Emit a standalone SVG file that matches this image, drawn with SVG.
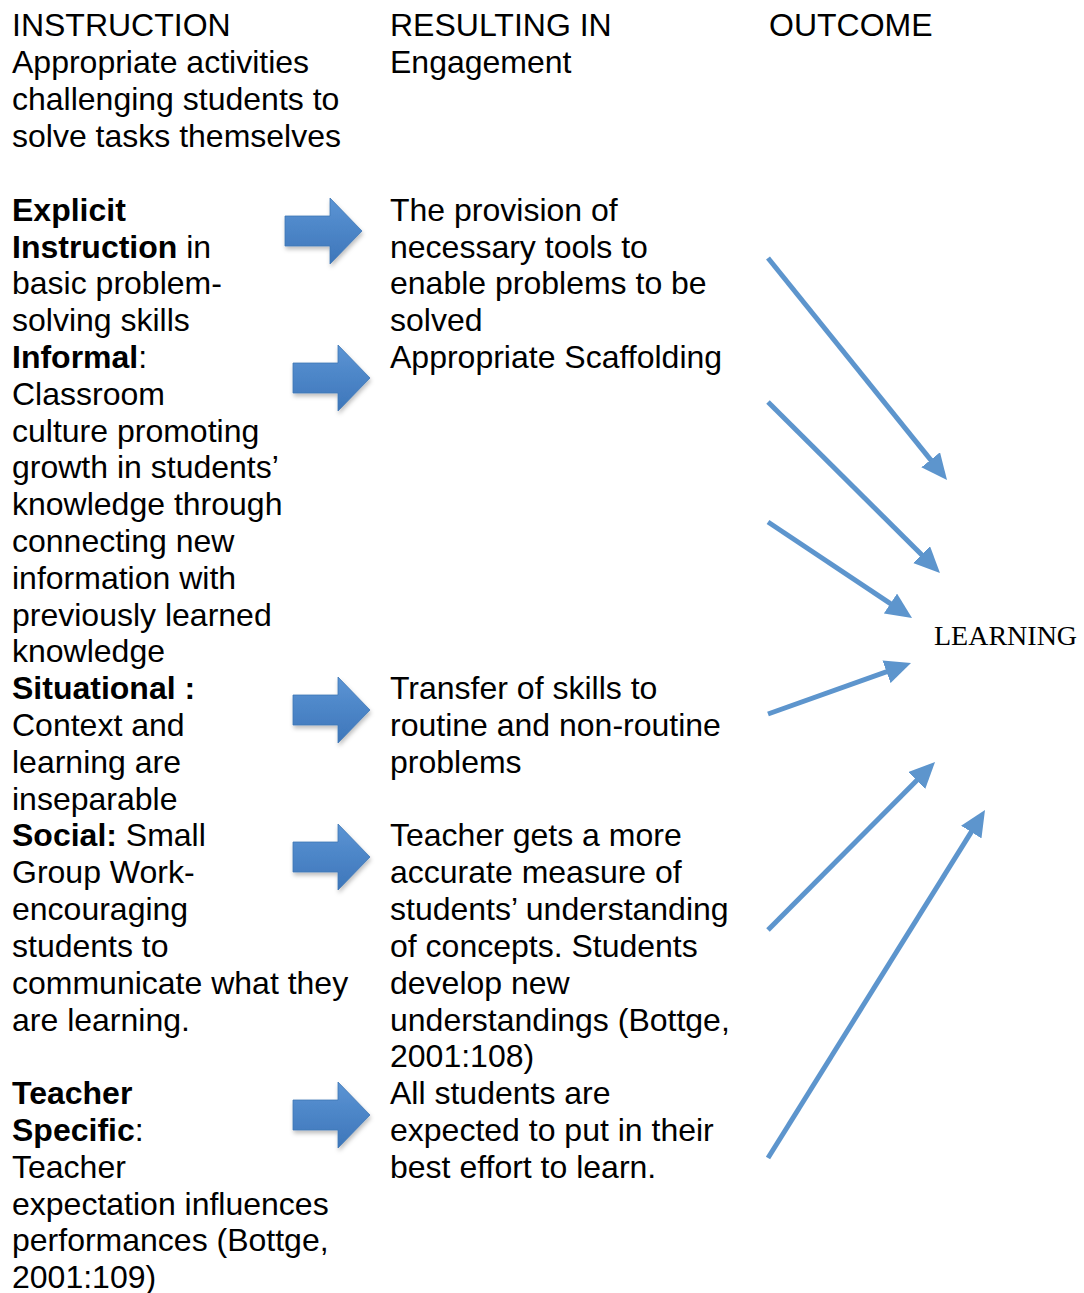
<svg xmlns="http://www.w3.org/2000/svg" width="1084" height="1293" viewBox="0 0 1084 1293">
<defs>
<style>
text{font-family:"Liberation Sans",Arial,sans-serif;font-size:32px;fill:#000}
.b{font-weight:bold}
.serif{font-family:"Liberation Serif","Times New Roman",serif;font-size:28px}
.conn line{stroke:#5d95cd;stroke-width:5;marker-end:url(#ah)}
.blk{fill:url(#bg);stroke:#3f77b5;stroke-width:0.8;filter:url(#sh)}
</style>
<linearGradient id="bg" x1="0" y1="0" x2="0" y2="1">
<stop offset="0" stop-color="#5b94d4"/>
<stop offset="1" stop-color="#3d76ba"/>
</linearGradient>
<filter id="sh" x="-20%" y="-20%" width="150%" height="160%">
<feDropShadow dx="1" dy="3" stdDeviation="2" flood-color="#000" flood-opacity="0.25"/>
</filter>
<marker id="ah" markerUnits="userSpaceOnUse" markerWidth="26" markerHeight="24" viewBox="0 0 26 24" refX="19" refY="12" orient="auto">
<path d="M0,0 L26,12 L0,24 z" fill="#5d95cd"/>
</marker>
<path id="ba" d="M0,-15 H45 V-33 L77,0 L45,33 V15 H0 Z"/>
</defs>

<g id="header">
<text x="12" y="36">INSTRUCTION</text>
<text x="12" y="73">Appropriate activities</text>
<text x="12" y="110">challenging students to</text>
<text x="12" y="147">solve tasks themselves</text>
<text x="390" y="36">RESULTING IN</text>
<text x="390" y="73">Engagement</text>
<text x="769" y="36">OUTCOME</text>
</g>

<g id="explicit">
<text x="12" y="221" class="b">Explicit</text>
<text x="12" y="258"><tspan class="b">Instruction</tspan> in</text>
<text x="12" y="294">basic problem-</text>
<text x="12" y="331">solving skills</text>
</g>
<g id="informal">
<text x="12" y="368"><tspan class="b">Informal</tspan>:</text>
<text x="12" y="405">Classroom</text>
<text x="12" y="442">culture promoting</text>
<text x="12" y="478">growth in students’</text>
<text x="12" y="515">knowledge through</text>
<text x="12" y="552">connecting new</text>
<text x="12" y="589">information with</text>
<text x="12" y="626">previously learned</text>
<text x="12" y="662">knowledge</text>
</g>
<g id="situational">
<text x="12" y="699" class="b">Situational :</text>
<text x="12" y="736">Context and</text>
<text x="12" y="773">learning are</text>
<text x="12" y="810">inseparable</text>
</g>
<g id="social">
<text x="12" y="846"><tspan class="b">Social:</tspan> Small</text>
<text x="12" y="883">Group Work-</text>
<text x="12" y="920">encouraging</text>
<text x="12" y="957">students to</text>
<text x="12" y="994">communicate what they</text>
<text x="12" y="1031">are learning.</text>
</g>
<g id="teacher">
<text x="12" y="1104" class="b">Teacher</text>
<text x="12" y="1141"><tspan class="b">Specific</tspan>:</text>
<text x="12" y="1178">Teacher</text>
<text x="12" y="1215">expectation influences</text>
<text x="12" y="1251">performances (Bottge,</text>
<text x="12" y="1288">2001:109)</text>
</g>

<g id="result-tools">
<text x="390" y="221">The provision of</text>
<text x="390" y="258">necessary tools to</text>
<text x="390" y="294">enable problems to be</text>
<text x="390" y="331">solved</text>
</g>
<g id="result-scaffolding">
<text x="390" y="368">Appropriate Scaffolding</text>
</g>
<g id="result-transfer">
<text x="390" y="699">Transfer of skills to</text>
<text x="390" y="736">routine and non-routine</text>
<text x="390" y="773">problems</text>
</g>
<g id="result-measure">
<text x="390" y="846">Teacher gets a more</text>
<text x="390" y="883">accurate measure of</text>
<text x="390" y="920">students’ understanding</text>
<text x="390" y="957">of concepts. Students</text>
<text x="390" y="994">develop new</text>
<text x="390" y="1031">understandings (Bottge,</text>
<text x="390" y="1067">2001:108)</text>
</g>
<g id="result-effort">
<text x="390" y="1104">All students are</text>
<text x="390" y="1141">expected to put in their</text>
<text x="390" y="1178">best effort to learn.</text>
</g>

<g id="learning">
<text x="934" y="645" class="serif">LEARNING</text>
</g>

<g id="connectors">
<g id="block-arrows">
<use href="#ba" class="blk" transform="translate(285,231)"/>
<use href="#ba" class="blk" transform="translate(293,378)"/>
<use href="#ba" class="blk" transform="translate(293,710)"/>
<use href="#ba" class="blk" transform="translate(293,857)"/>
<use href="#ba" class="blk" transform="translate(293,1115)"/>
</g>
<g class="conn">
<line x1="768" y1="258" x2="942.6" y2="474.6"/>
<line x1="768" y1="402" x2="935" y2="568"/>
<line x1="768" y1="522" x2="906.2" y2="614.1"/>
<line x1="768" y1="714" x2="904.4" y2="665.4"/>
<line x1="768" y1="930" x2="930.1" y2="767"/>
<line x1="768" y1="1158" x2="981.3" y2="815.9"/>
</g>
</g>
</svg>
